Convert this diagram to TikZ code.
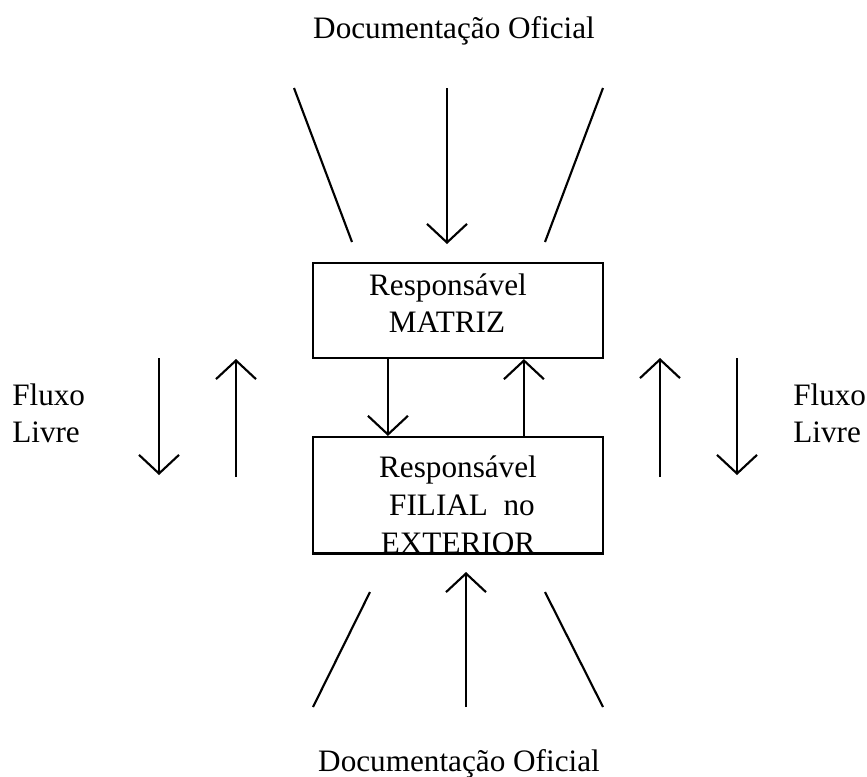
\documentclass[tikz,border=0pt]{standalone}
\usepackage{fontspec}
\setmainfont{Liberation Serif}
\usetikzlibrary{arrows.meta,calc}
\begin{document}
\begin{tikzpicture}[x=0.75pt,y=-0.75pt,
  ink/.style={line width=1.6pt,black},
  arr/.style={ink,-{Straight Barb[length=14pt,width=30pt,line width=1.6pt]}},
  box/.style={draw,ink,rectangle,inner sep=0pt},
  txt/.style={inner sep=0pt,anchor=base,font=\fontsize{23.4pt}{28pt}\selectfont},
  txtl/.style={txt,anchor=base west}]
\useasboundingbox (0,0) rectangle (867,776);

% boxes
\node[box,minimum width=217.5pt,minimum height=71.25pt] (matriz) at (458,310.5) {};
\node[box,minimum width=217.5pt,minimum height=87pt] (filial) at (458,495) {};

% box labels
\node[txt] (m1) at (448,295) {Responsável};
\node[txt] (m2) at (447,332) {MATRIZ};
\node[txt] (f1) at (458,477) {Responsável};
\node[txt] (f2) at (462,515) {FILIAL\ \ no};
\node[txt] (f3) at (458,553) {EXTERIOR};
\draw[ink] (filial.south west) -- (filial.south east);

% titles
\node[txt] (doctop) at (454,38) {Documentação Oficial};
\node[txt] (docbot) at (459,771) {Documentação Oficial};
\node[txtl] (fl1) at (12,405) {Fluxo};
\node[txtl] (fl2) at (12,442) {Livre};
\node[txtl] (fr1) at (793,405) {Fluxo};
\node[txtl] (fr2) at (793,442) {Livre};

% arrows between the two boxes
\draw[arr] ($(matriz.south west)+(76,0)$) -- ($(filial.north west)+(76,0)$);
\draw[arr] ($(filial.north west)+(212,0)$) -- ($(matriz.south west)+(212,0)$);

% official documentation, top
\coordinate (tl0) at (294,88);  \coordinate (tl1) at (352,242);
\coordinate (tc0) at (447,88);  \coordinate (tc1) at (447,244);
\coordinate (tr0) at (603,88);  \coordinate (tr1) at (545,242);
\draw[ink] (tl0) -- (tl1);
\draw[arr] (tc0) -- (tc1);
\draw[ink] (tr0) -- (tr1);

% official documentation, bottom
\coordinate (bl0) at (313,707); \coordinate (bl1) at (370,592);
\coordinate (bc0) at (466,707); \coordinate (bc1) at (466,572);
\coordinate (br0) at (603,707); \coordinate (br1) at (545,592);
\draw[ink] (bl0) -- (bl1);
\draw[arr] (bc0) -- (bc1);
\draw[ink] (br0) -- (br1);

% free flow, left
\coordinate (ld0) at (159,358); \coordinate (ld1) at (159,475);
\coordinate (lu0) at (236,477); \coordinate (lu1) at (236,359);
\draw[arr] (ld0) -- (ld1);
\draw[arr] (lu0) -- (lu1);

% free flow, right
\coordinate (ru0) at (660,477); \coordinate (ru1) at (660,358);
\coordinate (rd0) at (737,358); \coordinate (rd1) at (737,475);
\draw[arr] (ru0) -- (ru1);
\draw[arr] (rd0) -- (rd1);
\end{tikzpicture}
\end{document}
